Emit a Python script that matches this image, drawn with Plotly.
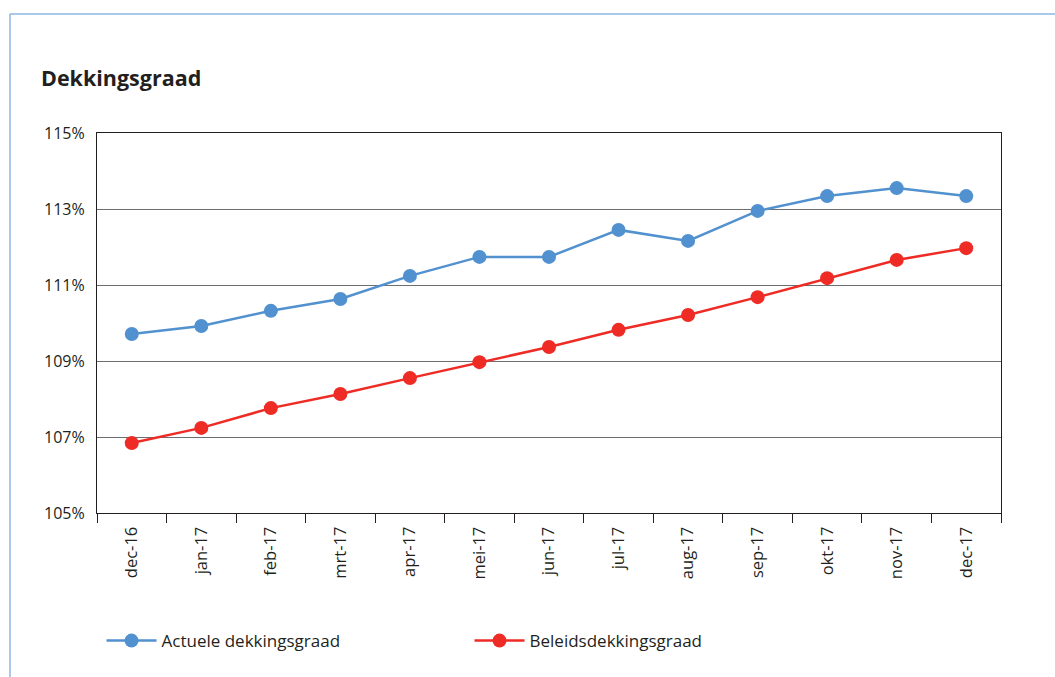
import plotly.graph_objects as go

months = ["dec-16", "jan-17", "feb-17", "mrt-17", "apr-17", "mei-17", "jun-17",
          "jul-17", "aug-17", "sep-17", "okt-17", "nov-17", "dec-17"]
actuele = [109.71, 109.92, 110.32, 110.63, 111.24, 111.74, 111.74,
           112.45, 112.16, 112.95, 113.34, 113.55, 113.34]
beleids = [106.84, 107.24, 107.76, 108.13, 108.55, 108.97, 109.37,
           109.82, 110.21, 110.68, 111.18, 111.66, 111.97]
y_ticks = [105, 107, 109, 111, 113, 115]
y_labels = [f"{v}%" for v in y_ticks]

BLUE = "#5291CF"
RED = "#EE2B24"
FONT = "Open Sans, Liberation Sans, sans-serif"
TEXT = "#231F20"

fig = go.Figure()
fig.add_trace(go.Scatter(
    x=months, y=actuele, name="Actuele dekkingsgraad", mode="lines+markers",
    line=dict(color=BLUE, width=2.5), marker=dict(color=BLUE, size=14),
))
fig.add_trace(go.Scatter(
    x=months, y=beleids, name="Beleidsdekkingsgraad", mode="lines+markers",
    line=dict(color=RED, width=2.5), marker=dict(color=RED, size=14),
))

fig.update_layout(
    width=1055, height=677,
    margin=dict(l=97, r=54, t=133, b=164),
    paper_bgcolor="white", plot_bgcolor="white",
    font=dict(family=FONT, size=16, color=TEXT),
    title=dict(text="<b>Dekkingsgraad</b>", x=41 / 1055, xanchor="left",
               y=1 - 78 / 677, yanchor="middle",
               font=dict(size=21.5, family=FONT, color=TEXT)),
    showlegend=True,
    legend=dict(orientation="h", x=0.005, xanchor="left", y=-0.337, yanchor="middle",
                itemwidth=50, entrywidth=303, entrywidthmode="pixels",
                font=dict(size=17, family=FONT, color=TEXT),
                bgcolor="rgba(0,0,0,0)"),
)

fig.update_xaxes(
    type="category", showgrid=False, showline=True, linecolor=TEXT, linewidth=1.2,
    mirror=True, ticks="outside", tickson="boundaries", ticklen=9, tickcolor=TEXT,
    tickangle=-90, tickfont=dict(size=16.5), ticklabelstandoff=6, range=[-0.5, 12.5],
)
fig.update_yaxes(
    range=[105, 115], tickvals=y_ticks, ticktext=y_labels, showgrid=True,
    gridcolor="#6E6E6E", gridwidth=1, showline=True, linecolor=TEXT, linewidth=1.2,
    mirror=True, ticks="", tickfont=dict(size=16), ticklabelstandoff=8, zeroline=False,
)

# Light blue frame along the top and left edges of the page
frame = "#8FB6E2"
fig.add_shape(type="line", xref="paper", yref="paper",
              x0=-87 / 904, x1=1.1, y0=(513 - 14) / 380, y1=(513 - 14) / 380,
              line=dict(color=frame, width=1.5))
fig.add_shape(type="line", xref="paper", yref="paper",
              x0=-87 / 904, x1=-87 / 904, y0=(513 - 14) / 380, y1=-0.5,
              line=dict(color=frame, width=1.5))

fig.write_html("out.html")
